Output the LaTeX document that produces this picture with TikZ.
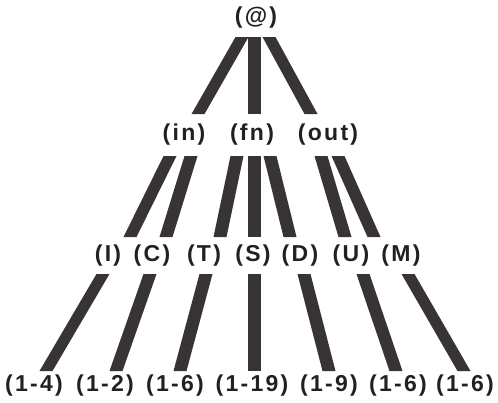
\documentclass[tikz,border=0pt]{standalone}
\usepackage{fontspec}
\setmainfont{Liberation Sans}[LetterSpace=10]
\usetikzlibrary{calc}
\definecolor{ink}{HTML}{222020}
\definecolor{barc}{HTML}{383434}
% parent, child, dx top, dy top (down), dx bottom, dy bottom (up)
\newcommand\treebar[6]{%
  \fill[barc] ($(#1)+(#3-6.5,#4)$) -- ($(#1)+(#3+6.5,#4)$)
    -- ($(#2)+(#5+6.5,-#6)$) -- ($(#2)+(#5-6.5,-#6)$) -- cycle;}
\tikzset{lab/.style={inner sep=0pt, text=ink, font=\fontsize{23}{27}\selectfont\bfseries}}
\begin{document}
\begin{tikzpicture}[x=1pt,y=-1pt]
\useasboundingbox[fill=white] (0,0) rectangle (498,402);
% row 1
\node[lab] (at) at (256,18) {(@)};
% row 2
\node[lab] (in)  at (184,135) {(in)};
\node[lab] (fn)  at (252,135) {(fn)};
\node[lab] (out) at (328,135) {(out)};
% row 3
\node[lab] (I) at (108,256) {(I)};
\node[lab] (C) at (152,256) {(C)};
\node[lab] (T) at (204,256) {(T)};
\node[lab] (S) at (253,256) {(S)};
\node[lab] (D) at (300,256) {(D)};
\node[lab] (U) at (351,256) {(U)};
\node[lab] (M) at (401,256) {(M)};
% row 4
\node[lab] (a) at (34,386)  {(1-4)};
\node[lab] (b) at (105,386) {(1-2)};
\node[lab] (c) at (175,386) {(1-6)};
\node[lab] (d) at (252,386) {(1-19)};
\node[lab] (e) at (329,386) {(1-9)};
\node[lab] (f) at (398,386) {(1-6)};
\node[lab] (g) at (465,386) {(1-6)};
% level 1 bars
\treebar{at}{in}{-14}{19}{14}{21}
\treebar{at}{fn}{-2}{19}{2}{21}
\treebar{at}{out}{13}{19}{-17}{21}
% level 2 bars
\treebar{in}{I}{-14}{21}{22}{19}
\treebar{in}{C}{7}{21}{14}{19}
\treebar{fn}{T}{-15}{21}{16}{19}
\treebar{fn}{S}{2}{21}{1}{19}
\treebar{fn}{D}{18}{21}{-10}{19}
\treebar{out}{U}{-7}{21}{-6}{19}
\treebar{out}{M}{10}{21}{-27}{19}
% level 3 bars
\treebar{I}{a}{-5}{18}{12}{15}
\treebar{C}{b}{-2}{18}{11}{15}
\treebar{T}{c}{2}{18}{5}{15}
\treebar{S}{d}{1}{18}{2}{15}
\treebar{D}{e}{4}{18}{0}{15}
\treebar{U}{f}{12}{18}{-2}{15}
\treebar{M}{g}{7}{18}{-1}{15}
\end{tikzpicture}
\end{document}
